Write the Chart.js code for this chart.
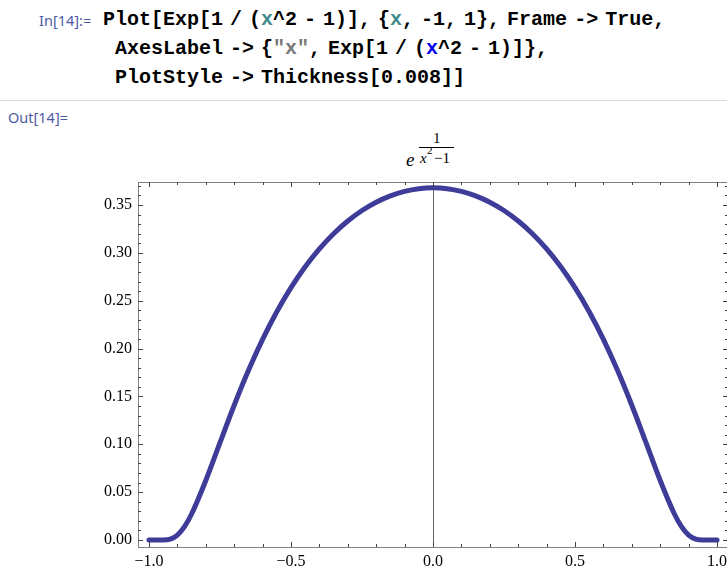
<!DOCTYPE html>
<html>
<head>
<meta charset="utf-8">
<script src="https://cdn.jsdelivr.net/npm/chart.js@4.4.1/dist/chart.umd.min.js"></script>
<style>
  html,body{margin:0;padding:0;overflow:hidden;background:#fff;width:727px;height:568px}
  .abs{position:absolute;white-space:pre;line-height:1}
  .lbl{font-family:'Noto Sans','Open Sans',sans-serif;font-size:14.5px;color:#4f5aa6}
  .code{font-family:'Liberation Mono','DejaVu Sans Mono',monospace;font-weight:bold;font-size:20px;color:#000;word-spacing:-5px}
  .lv{color:#3f8a8a}
  .gs{color:#0000ee}
  .st{color:#777}
  .sep{position:absolute;left:0;top:100px;width:727px;height:1px;background:#dcdcdc}
  .m{position:absolute;line-height:1;font-family:'Liberation Serif','Times New Roman',serif;color:#000;white-space:pre}
  #wrap{position:absolute;left:0;top:130px;width:740px;height:438px}
</style>
</head>
<body>
<div class="abs lbl" style="left:39px;top:13px">In[14]:=</div>
<div class="abs code" style="left:103px;top:10px">Plot[Exp[1 / (<span class="lv">x</span>^2 - 1)], {<span class="lv">x</span>, -1, 1}, Frame -> True,</div>
<div class="abs code" style="left:115px;top:39px">AxesLabel -> {<span class="st">"x"</span>, Exp[1 / (<span class="gs">x</span>^2 - 1)]},</div>
<div class="abs code" style="left:115px;top:68px">PlotStyle -> Thickness[0.008]]</div>
<div class="sep"></div>
<div class="abs lbl" style="left:8px;top:110px">Out[14]=</div>

<!-- axes label: e^(1/(x^2-1)) -->
<span class="m" style="left:406px;top:150px;font-size:19px;font-style:italic">e</span>
<span class="m" style="left:433px;top:131px;font-size:15px">1</span>
<div style="position:absolute;left:419px;top:147px;width:35px;height:1px;background:#000"></div>
<span class="m" style="left:420px;top:151px;font-size:15px;font-style:italic">x</span>
<span class="m" style="left:427px;top:145px;font-size:11px">2</span>
<span class="m" style="left:434px;top:151px;font-size:15px">−1</span>

<div id="wrap"><canvas id="c" width="740" height="438"></canvas></div>

<script>
/* values */
const xVals = [-1, -0.975, -0.95, -0.925, -0.9, -0.875, -0.85, -0.8, -0.75, -0.7, -0.65, -0.6, -0.55, -0.5,
  -0.45, -0.4, -0.35, -0.3, -0.25, -0.2, -0.15, -0.1, -0.05, 0,
  0.05, 0.1, 0.15, 0.2, 0.25, 0.3, 0.35, 0.4, 0.45, 0.5, 0.55, 0.6, 0.65, 0.7, 0.75, 0.8,
  0.85, 0.875, 0.9, 0.925, 0.95, 0.975, 1];
const yVals = [0, 0, 0.00004, 0.001, 0.0052, 0.014, 0.0272, 0.0622, 0.1017, 0.1408, 0.177, 0.2096, 0.2384, 0.2636,
  0.2854, 0.3041, 0.32, 0.3332, 0.3442, 0.3529, 0.3595, 0.3642, 0.367, 0.3679,
  0.367, 0.3642, 0.3595, 0.3529, 0.3442, 0.3332, 0.32, 0.3041, 0.2854, 0.2636, 0.2384, 0.2096, 0.177, 0.1408, 0.1017, 0.0622,
  0.0272, 0.014, 0.0052, 0.001, 0.00004, 0, 0];
const xTicks = [-1, -0.5, 0, 0.5, 1];
const yTicks = [0, 0.05, 0.1, 0.15, 0.2, 0.25, 0.3, 0.35];

const CURVE = '#3d3d99';
const FRAME = '#808080';
const fmt = (v,d) => (v < 0 ? '\u2212' : '') + Math.abs(v).toFixed(d);

/* Mathematica-ish frame: box, inward major/minor ticks on all sides, axis at x=0 */
const framePlugin = {
  id: 'frame',
  beforeDatasetsDraw(chart) {
    const {ctx, chartArea: a, scales: {x}} = chart;
    ctx.save();
    ctx.strokeStyle = '#666'; ctx.lineWidth = 1;
    const x0 = Math.round(x.getPixelForValue(0)) + .5;
    ctx.beginPath(); ctx.moveTo(x0, a.top); ctx.lineTo(x0, a.bottom); ctx.stroke();
    ctx.restore();
  },
  afterDraw(chart) {
    const {ctx, chartArea: a, scales: {x, y}} = chart;
    ctx.save();
    ctx.lineWidth = 1;
    ctx.strokeStyle = FRAME;
    ctx.strokeRect(Math.round(a.left) + .5, Math.round(a.top) + .5, Math.round(a.right - a.left), Math.round(a.bottom - a.top));
    ctx.strokeStyle = '#444';
    ctx.beginPath();
    for (let i = -10; i <= 10; i++) {
      const px = Math.round(x.getPixelForValue(i / 10)) + .5;
      const len = i % 5 === 0 ? 5 : 3;
      ctx.moveTo(px, a.bottom); ctx.lineTo(px, a.bottom - len);
      ctx.moveTo(px, a.top); ctx.lineTo(px, a.top + len);
    }
    for (let i = 0; i <= 37; i++) {
      const py = Math.round(y.getPixelForValue(i / 100)) + .5;
      const len = i % 5 === 0 ? 5 : 3;
      ctx.moveTo(a.left, py); ctx.lineTo(a.left + len, py);
      ctx.moveTo(a.right, py); ctx.lineTo(a.right - len, py);
    }
    ctx.stroke();
    ctx.restore();
  }
};

new Chart(document.getElementById('c'), {
  type: 'scatter',
  data: {
    datasets: [{
      data: xVals.map((v, i) => ({x: v, y: yVals[i]})),
      showLine: true, borderColor: CURVE, borderWidth: 5, pointRadius: 0,
      cubicInterpolationMode: 'monotone', borderCapStyle: 'round', borderJoinStyle: 'round'
    }]
  },
  options: {
    responsive: false, animation: false,
    layout: {padding: {top: 52, right: 12, left: 0, bottom: 0}},
    plugins: {legend: {display: false}, tooltip: {enabled: false}},
    scales: {
      x: {
        type: 'linear', min: -1.0387, max: 1.0387,
        afterBuildTicks: s => { s.ticks = xTicks.map(v => ({value: v})); },
        afterFit: s => { s.height = 21; },
        grid: {display: false, drawTicks: false}, border: {display: false},
        ticks: {padding: 5, color: '#000', maxRotation: 0, font: {family: "'Liberation Serif', serif", size: 16}, callback: v => fmt(v, 1)}
      },
      y: {
        type: 'linear', min: -0.0073, max: 0.374,
        afterBuildTicks: s => { s.ticks = yTicks.map(v => ({value: v})); },
        afterFit: s => { s.width = 138; },
        grid: {display: false, drawTicks: false}, border: {display: false},
        ticks: {padding: 6, color: '#000', font: {family: "'Liberation Serif', serif", size: 16}, callback: v => fmt(v, 2)}
      }
    }
  },
  plugins: [framePlugin]
});
</script>
</body>
</html>
